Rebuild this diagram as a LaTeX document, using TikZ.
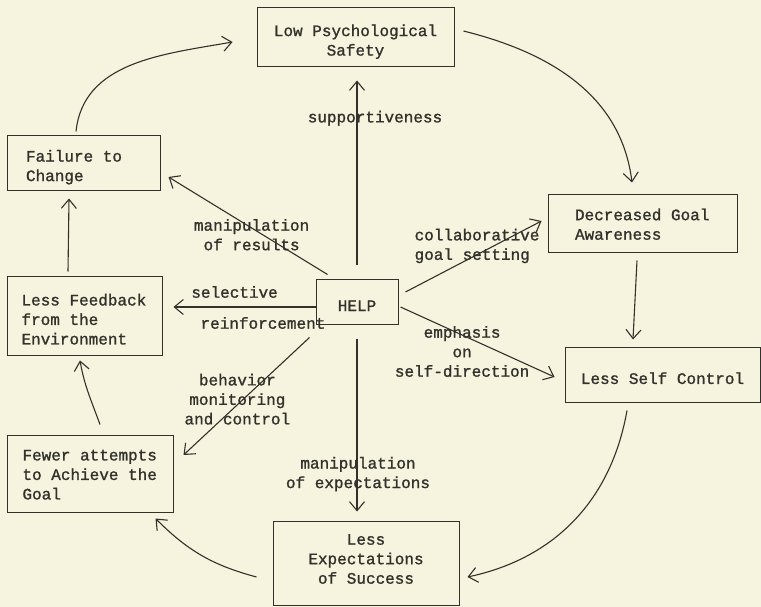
\documentclass[tikz,border=0pt]{standalone}
\RequirePackage{fontspec}
\setmonofont{Liberation Mono}[WordSpace={1,0,0}, FakeBold=1.2]
\RequirePackage{xcolor}
\RequirePackage{tikz}
\usetikzlibrary{arrows.meta}

\definecolor{paper}{RGB}{246,244,222}
\definecolor{ink}{RGB}{50,49,43}

\begin{document}
\begin{tikzpicture}[x=1pt, y=1pt,
        every node/.style={font=\ttfamily\fontsize{16}{19.5}\selectfont, text=ink},
        box/.style={draw=ink, line width=1pt, inner ysep=0pt, execute at begin node={\rule{0pt}{#1}}},
        box/.default=19pt,
        lbl/.style={align=center, inner sep=0pt},
        arr/.style={draw=ink, line width=1.1pt, -{Straight Barb[length=9pt, width=15pt]}}]
            \fill[paper] (0,0) rectangle (761,-607);
            \useasboundingbox (0,0) rectangle (761,-607);

            \node[box=20pt, align=flush center, text width=170pt, inner xsep=13.5pt, minimum height=59pt] (low) at (355.5,-37.5) {Low Psychological\\Safety};
            \node[box, align=flush left, text width=115pt, inner xsep=19pt, minimum height=55pt] (fail) at (83.5,-163.5) {Failure to\\Change};
            \node[box, align=flush left, text width=126pt, inner xsep=14.5pt, minimum height=79pt] (feed) at (84.5,-315.5) {Less Feedback\\from the\\Environment};
            \node[box=13pt, align=flush left, text width=135pt, inner xsep=15.5pt, minimum height=77pt] (few) at (90,-473.5) {Fewer attempts\\to Achieve the\\Goal};
            \node[box, minimum width=82pt, minimum height=45pt] (help) at (357,-301.5) {HELP};
            \node[box=13pt, align=flush left, text width=135pt, inner xsep=27pt, minimum height=57pt] (dec) at (642.5,-223.5) {Decreased Goal\\Awareness};
            \node[box, minimum width=195pt, minimum height=55pt] (self) at (662.5,-374.5) {Less Self Control};
            \node[box=0pt, align=flush center, text width=150pt, inner xsep=18pt, minimum height=84pt,
                execute at end node={\par\vspace{8pt}}] (exp) at (366,-563) {Less\\Expectations\\of Success};

            \draw[arr] ([shift={(-7.5pt,4pt)}]fail.north) to[out=84, in=190] ([shift={(-24pt,-4.5pt)}]low.west);
            \draw[arr] ([shift={(9pt,6.5pt)}]low.east) to[out=-14, in=97] ([shift={(-10.5pt,12pt)}]dec.north);
            \draw[arr] ([shift={(-5.5pt,-8pt)}]dec.south) -- ([shift={(-29.5pt,7pt)}]self.north);
            \draw[arr] ([shift={(-35.5pt,-8pt)}]self.south) to[out=-100, in=12] ([shift={(8pt,-14pt)}]exp.east);
            \draw[arr] ([shift={(-16pt,-14pt)}]exp.west) to[out=165, in=-45] ([shift={(-18pt,-6pt)}]few.south east);
            \draw[arr] ([shift={(10pt,10pt)}]few.north) to[out=110, in=-80] ([shift={(-4.5pt,-5pt)}]feed.south);
            \draw[arr] ([shift={(-16.5pt,4pt)}]feed.north) -- ([shift={(-14.5pt,-7pt)}]fail.south);

            \draw[arr] ([yshift=14pt]help.north) -- ([shift={(1.5pt,-13pt)}]low.south)
                node[lbl, pos=.795, xshift=18pt] {supportiveness};
            \draw[arr] ([shift={(12pt,4pt)}]help.north west) -- ([shift={(8pt,-13.5pt)}]fail.east)
                node[lbl, pos=.49, shift={(2pt,-8pt)}] {manipulation\\of results};
            \draw[arr] ([yshift=-5.5pt]help.west) -- ([shift={(11pt,8.5pt)}]feed.east)
                node[lbl, pos=.57, yshift=15pt] {selective}
                node[lbl, pos=.37, yshift=-16pt] {reinforcement};
            \draw[arr] ([shift={(-6pt,-13pt)}]help.south west) -- ([shift={(10pt,18.5pt)}]few.east)
                node[lbl, pos=.525, xshift=-6pt] {behavior\\monitoring\\and control};
            \draw[arr] ([yshift=-14pt]help.south) -- ([shift={(-9pt,9pt)}]exp.north)
                node[lbl, pos=.784, xshift=1pt] {manipulation\\of expectations};
            \draw[arr] ([shift={(7pt,9.5pt)}]help.east) -- ([shift={(-6pt,2.5pt)}]dec.west)
                node[lbl, align=left, pos=.526, yshift=8.7pt] {collaborative\\goal setting};
            \draw[arr] ([shift={(2pt,-5.5pt)}]help.east) -- ([shift={(-10pt,-2.5pt)}]self.west)
                node[lbl, pos=.4, yshift=-16.5pt] {emphasis\\on\\self-direction};
        \end{tikzpicture}
\end{document}
